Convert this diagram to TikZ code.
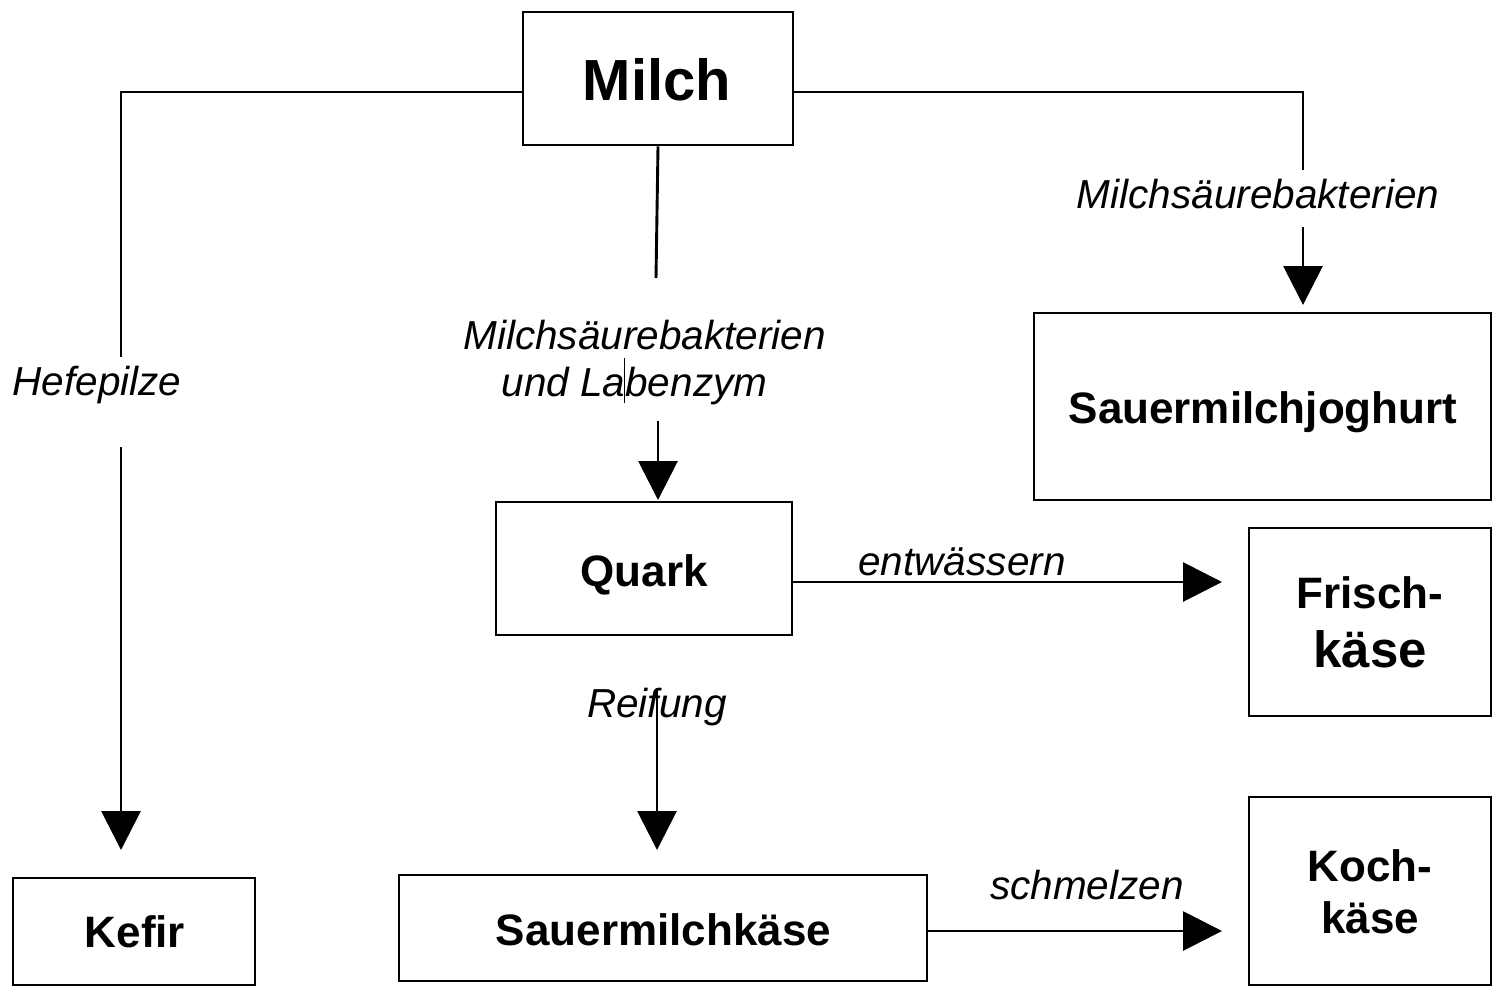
\documentclass[tikz,border=0pt]{standalone}
\usepackage{fontspec}
\setmainfont{Liberation Sans}
\usetikzlibrary{arrows.meta}
\begin{document}
\begin{tikzpicture}[x=1pt,y=-1pt,
  box/.style={draw, line width=2.9pt, inner sep=0pt},
  lbl/.style={font=\fontsize{40.5}{46}\selectfont\itshape, inner sep=0pt, anchor=base},
  ttl/.style={font=\fontsize{44}{50}\selectfont\bfseries, inner sep=0pt, anchor=base},
  conn/.style={line width=2.9pt},
  arr/.style={conn, -{Triangle[length=39pt,width=39pt]}}]
\useasboundingbox (0,0) rectangle (1499,994);

% boxes
\node[box, minimum width=270pt, minimum height=133pt] (milch) at (658,78.5) {};
\node[box, minimum width=457pt, minimum height=187pt] (joghurt) at (1262.5,406.5) {};
\node[box, minimum width=296pt, minimum height=133pt] (quark) at (644,568.5) {};
\node[box, minimum width=242pt, minimum height=188pt] (frisch) at (1370,622) {};
\node[box, minimum width=242pt, minimum height=107pt] (kefir) at (134,931.5) {};
\node[box, minimum width=528pt, minimum height=106pt] (smk) at (663,928) {};
\node[box, minimum width=242pt, minimum height=188pt] (koch) at (1370,891) {};

% box texts
\node[font=\fontsize{58}{60}\selectfont\bfseries, inner sep=0pt, anchor=base] (milchT) at (657,100) {Milch};
\node[ttl] (joghurtT) at (1263,423) {Sauermilchjoghurt};
\node[ttl] (quarkT) at (644,586) {Quark};
\node[ttl] (frischT1) at (1370,608) {Frisch-};
\node[ttl, font=\fontsize{51}{56}\selectfont\bfseries] (frischT2) at (1370,667) {käse};
\node[ttl] (kefirT) at (135,947) {Kefir};
\node[ttl] (smkT) at (663.5,945) {Sauermilchkäse};
\node[ttl] (kochT1) at (1370,881) {Koch-};
\node[ttl] (kochT2) at (1370,933) {käse};

% labels
\node[lbl] (hefe) at (97,395) {Hefepilze};
\node[lbl] (msbR) at (1258,208) {Milchsäurebakterien};
\node[lbl] (msbM1) at (644.5,349) {Milchsäurebakterien};
\node[lbl] (msbM2) at (634.5,396) {und Labenzym};
\node[lbl] (entw) at (962,575) {entwässern};
\node[lbl] (reif) at (657,717) {Reifung};
\node[lbl] (schm) at (1087,899) {schmelzen};

% helper coordinates
\coordinate (lc) at (121,92);
\coordinate (lstop) at (121,357);
\coordinate (lstart) at (121,447);
\coordinate (ltip) at (121,850);
\coordinate (rc) at (1303,92);
\coordinate (rstop) at (1303,170);
\coordinate (rstart) at (1303,227);
\coordinate (rtip) at (1303,305);
\coordinate (mstop) at (656,278);
\coordinate (mstart) at (658,421);
\coordinate (mtip) at (658,500);
\coordinate (qtip) at (1222,582);
\coordinate (rfstart) at (657,688);
\coordinate (rftip) at (657,850);
\coordinate (stip) at (1222,931);

% connectors
\draw[conn] (milch.west |- lc) -- (lc) -- (lstop);
\draw[arr] (lstart) -- (ltip);
\draw[conn] (milch.east |- rc) -- (rc) -- (rstop);
\draw[arr] (rstart) -- (rtip);
\draw[conn] (milch.south) -- (mstop);
\draw[arr] (mstart) -- (mtip);
\draw[arr] (quark.east |- qtip) -- (qtip);
\draw[arr] (rfstart) -- (rftip);
\draw[arr] (smk.east |- stip) -- (stip);

% thin stray mark in label
\draw[line width=1pt] (624,358) -- (624,403);
\end{tikzpicture}
\end{document}
